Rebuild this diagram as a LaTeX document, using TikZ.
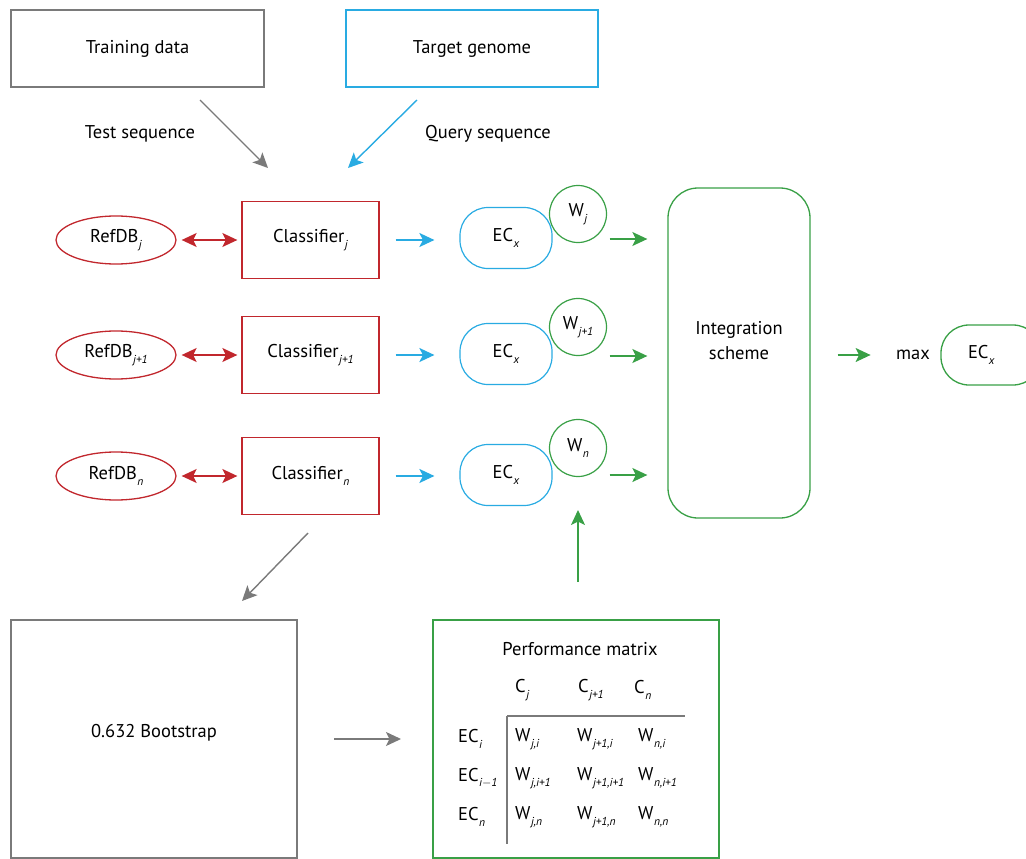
\documentclass[tikz,border=0pt]{standalone}
\usepackage{fontspec}
\setmainfont{PT Sans}
\usetikzlibrary{arrows.meta,shapes.geometric}
\definecolor{cgray}{HTML}{7A7A7A}
\definecolor{ccyan}{HTML}{29ABE2}
\definecolor{cred}{HTML}{C1272D}
\definecolor{cgreen}{HTML}{39A046}
% low-set italic subscript
\newcommand{\subi}[1]{\kern0.5pt\raisebox{-5.5pt}{\fontsize{11.5}{12}\selectfont\itshape #1}}
\tikzset{
  every node/.style={font=\fontsize{18.5}{25}\selectfont, text=black},
  graybox/.style={draw=cgray, line width=1.3pt, rectangle, inner sep=0pt},
  cyanbox/.style={draw=ccyan, line width=1.3pt, rectangle, inner sep=0pt},
  redbox/.style={draw=cred, line width=1.3pt, rectangle, minimum width=137, minimum height=77, inner sep=0pt},
  dbell/.style={draw=cred, line width=1.3pt, ellipse, minimum width=120, minimum height=48, inner sep=0pt},
  ecpill/.style={draw=ccyan, line width=1.2pt, rectangle, rounded corners=28, minimum width=92, minimum height=61, inner sep=0pt},
  wcirc/.style={draw=cgreen, line width=1.2pt, circle, fill=white, minimum size=57, inner sep=0pt},
  tip/.style={-{Stealth[length=15pt,width=14pt,inset=3.5pt]}, line width=1.4pt},
  grayarr/.style={tip, draw=cgray},
  cyanarr/.style={tip, draw=ccyan},
  greenarr/.style={tip, draw=cgreen},
  redarr/.style={{Stealth[length=15pt,width=14pt,inset=3.5pt]}-{Stealth[length=15pt,width=14pt,inset=3.5pt]}, line width=1.4pt, draw=cred},
  cell/.style={anchor=west, inner sep=0pt},
}
\begin{document}
\begin{tikzpicture}[x=1pt,y=-1pt]
\useasboundingbox (0,0) rectangle (1026,859);

% sources
\node[graybox, minimum width=253, minimum height=77] (train) at (137.5,48.5) {Training data};
\node[cyanbox, minimum width=252, minimum height=77] (target) at (472,48.5) {Target genome};

\node (testlbl) at (140,134) {Test sequence};
\node (querylbl) at (488,134) {Query sequence};

% classifier rows
\foreach \r/\y/\s in {1/240/j, 2/355/j+1, 3/476/n}{
  \node[dbell] (db\r) at (116,\y) {RefDB\subi{\s}};
  \node[redbox] (cl\r) at (310.5,\y) {Classifier\subi{\s}};
  \draw[redarr, shorten <=5pt, shorten >=4pt] (db\r) -- (cl\r);
}

% EC pills and weights
\node[ecpill] (ec1) at (506,238) {EC\subi{x}};
\node[ecpill] (ec2) at (506,354) {EC\subi{x}};
\node[ecpill] (ec3) at (506,475) {EC\subi{x}};
\node[wcirc] (w1) at (578,214) {W\subi{j}};
\node[wcirc] (w2) at (578,327) {W\subi{j+1}};
\node[wcirc] (w3) at (578,448) {W\subi{n}};

% integration
\node[draw=cgreen, line width=1.3pt, rounded corners=30, minimum width=142, minimum height=330, inner sep=0pt] (integ) at (739,353) {};
\node[align=center] (integlbl) at (739,341) {Integration\\scheme};
\node (maxlbl) at (913,355) {max};
\node[draw=cgreen, line width=1.3pt, rectangle, rounded corners=28, minimum width=100, minimum height=60, inner sep=0pt, text width=88, align=left] (ecout) at (991,355) {\hspace{21pt}EC\subi{x}};

% bottom boxes
\node[graybox, minimum width=286, minimum height=238] (boot) at (154,739) {};
\node (bootlbl) at (154,733) {0.632 Bootstrap};
\node[draw=cgreen, line width=1.3pt, rectangle, minimum width=286, minimum height=238, inner sep=0pt] (perf) at (576,739) {};
\node (perftitle) at (580,649) {Performance matrix};

% performance matrix body
\node[cell] (h1) at (515,690) {C\subi{j}};
\node[cell] (h2) at (578,690) {C\subi{j+1}};
\node[cell] (h3) at (634,690) {C\subi{n}};
\node[cell] (r1) at (458,739) {EC\subi{i}};
\node[cell] (r2) at (458,778) {EC\subi{i$-$1}};
\node[cell] (r3) at (458,817) {EC\subi{n}};
\node[cell] (m11) at (515,739) {W\subi{j,i}};
\node[cell] (m12) at (577,739) {W\subi{j+1,i}};
\node[cell] (m13) at (638,739) {W\subi{n,i}};
\node[cell] (m21) at (515,778) {W\subi{j,i+1}};
\node[cell] (m22) at (577,778) {W\subi{j+1,i+1}};
\node[cell] (m23) at (638,778) {W\subi{n,i+1}};
\node[cell] (m31) at (515,817) {W\subi{j,n}};
\node[cell] (m32) at (577,817) {W\subi{j+1,n}};
\node[cell] (m33) at (638,817) {W\subi{n,n}};
\coordinate (corner) at (507,716);
\coordinate (hend) at (685,716);
\coordinate (vend) at (507,844);
\draw[draw=cgray, line width=1.1pt] (corner) -- (hend);
\draw[draw=cgray, line width=1.1pt] (corner) -- (vend);

% free arrow ends
\coordinate (tsA) at (200,100);
\coordinate (tsB) at (268,168);
\coordinate (qsA) at (417,100);
\coordinate (qsB) at (348,168);
\coordinate (bsA) at (308,533);
\coordinate (bsB) at (242,601);
\coordinate (pmA) at (578,582);
\coordinate (pmB) at (578,510);
\coordinate (btA) at (334,739);
\coordinate (btB) at (401,739);

\draw[grayarr] (tsA) -- (tsB);
\draw[cyanarr] (qsA) -- (qsB);
\draw[grayarr] (bsA) -- (bsB);
\draw[greenarr] (pmA) -- (pmB);
\draw[grayarr] (btA) -- (btB);

% classifier to EC
\foreach \r in {1,2,3}{
  \draw[cyanarr, shorten <=16pt, shorten >=25pt] (cl\r.east) -- (cl\r.east -| ec\r.west);
}
% EC to integration
\draw[greenarr, shorten <=57pt, shorten >=20pt] (ec1.east |- 0,239) -- (integ.west |- 0,239);
\draw[greenarr, shorten <=57pt, shorten >=20pt] (ec2.east |- 0,356) -- (integ.west |- 0,356);
\draw[greenarr, shorten <=57pt, shorten >=20pt] (ec3.east |- 0,475) -- (integ.west |- 0,475);
% integration to output
\draw[greenarr, shorten <=27pt, shorten >=22pt] (integ.east |- maxlbl) -- (maxlbl.west);
\end{tikzpicture}
\end{document}
